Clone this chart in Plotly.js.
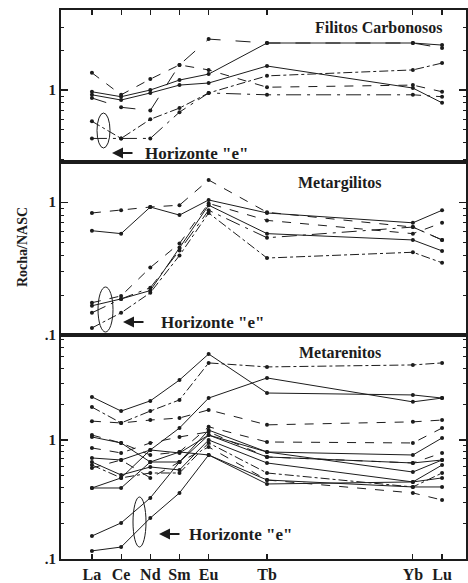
<!DOCTYPE html>
<html><head><meta charset="utf-8">
<script src="https://cdn.plot.ly/plotly-3.0.1.min.js"></script>
<style>html,body{margin:0;padding:0;background:#fff}#chart{width:468px;height:583px}</style>
</head><body><div id="chart"></div>
<script>
// REE elements and their spacing on the diagram
const elements = ['La','Ce','Nd','Sm','Eu','Tb','Yb','Lu'];
const elementPos = [0,1,2,3,4,6,11,12];

// Filitos Carbonosos (Rocha/NASC)
const fc1 = [0.87,0.74,0.70,1.55,2.43,2.27,2.27,2.08];
const fc2 = [1.35,0.92,1.21,1.55,1.42,1.05,1.09,0.97];
const fc3 = [0.97,0.89,1.00,1.19,1.32,2.27,2.27,2.19];
const fc4 = [0.92,0.84,0.95,1.09,1.13,1.52,1.035,0.80];
const fc5 = [0.58,0.43,0.60,0.73,0.95,1.28,1.42,1.60];
const fc6 = [0.43,0.43,0.43,0.68,0.95,0.92,0.92,0.89];
const fcDash = ['longdash','dash','solid','solid','dashdot','longdashdot'];

// Metargilitos
const mg1 = [0.83,0.87,0.92,0.95,1.47,0.84,0.65,0.52];
const mg2 = [0.61,0.58,0.92,0.80,1.04,0.83,0.70,0.87];
const mg3 = [0.175,0.197,0.322,0.489,0.98,0.73,0.58,0.70];
const mg4 = [0.166,0.187,0.216,0.456,0.95,0.58,0.52,0.43];
const mg5 = [0.147,0.187,0.227,0.433,0.87,0.54,0.65,0.52];
const mg6 = [0.113,0.147,0.208,0.397,0.83,0.38,0.42,0.35];
const mgDash = ['dash','solid','dash','solid','longdashdot','dashdot'];

// Metarenitos
const mr1 = [2.30,1.75,2.13,3.19,5.28,2.48,2.39,2.25];
const mr2 = [1.89,1.39,1.75,2.17,4.44,4.11,4.27,4.44];
const mr3 = [1.44,1.39,1.47,1.53,1.79,1.34,1.42,1.47];
const mr4 = [0.395,0.48,0.824,1.26,2.25,3.32,2.09,2.25];
const mr5 = [1.10,0.944,0.748,0.793,1.29,0.962,0.944,1.26];
const mr6 = [1.06,0.944,0.653,0.653,1.21,0.793,0.748,1.04];
const mr7 = [0.857,0.778,0.944,1.06,1.17,0.72,0.641,0.778];
const mr8 = [0.706,0.679,0.824,0.778,1.10,0.793,0.538,0.679];
const mr9 = [0.653,0.508,0.593,0.56,1.0,0.641,0.444,0.616];
const mr10 = [0.616,0.48,0.528,0.528,0.944,0.528,0.403,0.528];
const mr11 = [0.582,0.679,0.48,0.653,0.873,0.461,0.359,0.313];
const mr12 = [0.395,0.395,0.653,0.793,0.748,0.427,0.444,0.48];
const mr13 = [0.156,0.201,0.326,0.653,1.10,0.72,0.641,0.679];
const mr14 = [0.117,0.126,0.221,0.359,0.748,0.461,0.403,0.403];
const mrDash = ['solid','dashdot','dash','solid','dash','solid','dash','solid','solid','dashdot','dash','solid','solid','solid'];

const panels = [
  {series:[fc1,fc2,fc3,fc4,fc5,fc6], dash:fcDash, x:'x', y:'y'},
  {series:[mg1,mg2,mg3,mg4,mg5,mg6], dash:mgDash, x:'x2', y:'y2'},
  {series:[mr1,mr2,mr3,mr4,mr5,mr6,mr7,mr8,mr9,mr10,mr11,mr12,mr13,mr14], dash:mrDash, x:'x3', y:'y3'}
];

const ink = '#1c1c1c';
const traces = [];
panels.forEach(p => {
  p.series.forEach((s, i) => {
    traces.push({
      type:'scatter', mode:'lines+markers', x:elementPos, y:s,
      xaxis:p.x, yaxis:p.y,
      line:{color:ink, width:1, dash:p.dash[i]},
      marker:{color:ink, size:4, symbol:'circle'},
      showlegend:false, hoverinfo:'skip'
    });
  });
});

const serif = '"Liberation Serif", "DejaVu Serif", serif';
const bold = t => '<b>' + t + '</b>';
const minorVals = [];
[0.01,0.1,1,10].forEach(d => { for (let k=2;k<=9;k++) minorVals.push(k*d); });

function yax(domain, range, vals, text){
  return {
    type:'log', domain:domain, range:range,
    tickvals:vals, ticktext:text.map(bold), ticks:'inside', ticklen:7, tickwidth:1.2, tickcolor:ink,
    minor:{ticks:'inside', ticklen:3, tickwidth:1, tickcolor:ink, tickvals:minorVals, showgrid:false},
    showline:true, linewidth:2, linecolor:ink, mirror:'ticks',
    showgrid:false, zeroline:false,
    tickfont:{family:serif, size:15, color:ink}
  };
}
const xRange = [-1.06, 12.82];
function xax(anchor, opts){
  return Object.assign({
    range:xRange, anchor:anchor, tickvals:elementPos, ticktext:elements.map(bold),
    showline:true, linewidth:2, linecolor:ink, mirror:true,
    showgrid:false, zeroline:false, tickcolor:ink, ticklen:5, tickwidth:1.2,
    tickfont:{family:serif, size:16, color:ink}
  }, opts);
}

const W = 405, H = 549, L = 61, B = 559;
const px = X => (X - L) / W;
const py = Y => (B - Y) / H;

const titleFont = {family:serif, size:16, color:ink};
const annotations = [
  {text:bold('Filitos Carbonosos'), x:px(379), y:py(27)},
  {text:bold('Metargilitos'), x:px(340), y:py(183)},
  {text:bold('Metarenitos'), x:px(340), y:py(352)}
].map(a => Object.assign({xref:'paper', yref:'paper', showarrow:false, xanchor:'center', yanchor:'middle', font:titleFont}, a));

[[143,153],[159,322],[187,534]].forEach(([X,Y]) => {
  annotations.push({text:bold('Horizonte "e"'), xref:'paper', yref:'paper', x:px(X), y:py(Y), xanchor:'left', yanchor:'middle', showarrow:false, font:{family:serif, size:17, color:ink}});
});
[[112,153],[123,322],[159,534]].forEach(([X,Y]) => {
  annotations.push({text:'', xref:'paper', yref:'paper', x:px(X), y:py(Y), ax:22, ay:0, showarrow:true, arrowhead:2, arrowsize:1, arrowwidth:2.2, arrowcolor:ink});
});
annotations.push({text:bold('Rocha/NASC'), xref:'paper', yref:'paper', x:px(22), y:py(247), textangle:-90, showarrow:false, xanchor:'center', yanchor:'middle', font:{family:serif, size:14, color:ink}});

const shapes = [[97,110,113,148],[98,113,287,332],[133,146,497,547]].map(([x0,x1,y0,y1]) => ({
  type:'circle', xref:'paper', yref:'paper', x0:px(x0), x1:px(x1), y0:py(y1), y1:py(y0),
  line:{color:ink, width:1}
}));

const layout = {
  width:468, height:583,
  margin:{l:L, r:2, t:10, b:24},
  paper_bgcolor:'#fff', plot_bgcolor:'#fff',
  showlegend:false,
  xaxis: xax('y', {side:'top', ticks:'inside', showticklabels:false}),
  xaxis2: xax('y2', {ticks:'', showticklabels:false}),
  xaxis3: xax('y3', {ticks:'inside', showticklabels:true, ticklabelstandoff:0}),
  yaxis: yax([py(162), 1], [-0.545, 0.606], [1], ['1']),
  yaxis2: yax([py(335), py(162)], [-1, 0.303], [0.1, 1], ['.1','1']),
  yaxis3: yax([0, py(335)], [-1, 0.882], [0.1, 1], ['.1','1']),
  annotations:annotations,
  shapes:shapes
};

Plotly.newPlot('chart', traces, layout, {staticPlot:true, displayModeBar:false});
</script></body></html>
